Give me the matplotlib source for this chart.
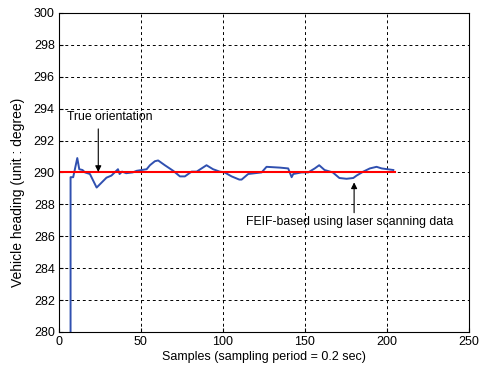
import numpy as np
from matplotlib import pyplot as plt

plt.rcParams['font.family'] = ['Liberation Sans', 'DejaVu Sans']

# FEIF-based heading estimate (samples, degree)
samples = [7.1, 7.1, 8.7, 11.2, 12.4, 14.4, 15.9, 18.9, 23, 29, 32, 34, 36, 37,
           38.5, 41, 45, 47.4, 53.5, 55.5, 58.5, 60.5, 64.6, 69.7, 73.8, 76.8,
           80.9, 84, 90, 94, 98, 101, 105.3, 110, 111.4, 115.4, 123.6, 126.6,
           134.8, 139.8, 141.9, 142.9, 148, 152, 156, 158.7, 162, 167, 171,
           175.4, 179.5, 181.5, 185.6, 189.6, 193.7, 196.8, 203.9]
heading = [280, 289.7, 289.7, 290.9, 290.2, 290.15, 290.0, 289.9, 289.05, 289.67,
           289.8, 290.0, 290.2, 289.9, 290.05, 289.95, 290.0, 290.1, 290.2, 290.45,
           290.7, 290.75, 290.45, 290.1, 289.75, 289.75, 290.05, 290.05, 290.45,
           290.2, 290.05, 290.0, 289.75, 289.55, 289.55, 289.9, 290.0, 290.35,
           290.3, 290.25, 289.7, 289.9, 290.0, 290.0, 290.25, 290.45, 290.15,
           290.0, 289.65, 289.6, 289.65, 289.8, 290.05, 290.25, 290.35, 290.25,
           290.15]

true_x = [0, 205]
true_y = [290, 290]

fig = plt.figure(figsize=(4.91, 3.68), dpi=100)
ax = fig.add_axes([0.120, 0.098, 0.835, 0.867])

ax.plot(samples, heading, color='#3050b0', lw=1.4)
ax.plot(true_x, true_y, color='#ff0000', lw=1.5)

ax.set_xlim(0, 250)
ax.set_ylim(280, 300)
ax.set_xticks(np.arange(0, 251, 50))
ax.set_yticks(np.arange(280, 301, 2))
ax.tick_params(direction='in', labelsize=9, length=3, pad=3)
ax.grid(True, color='black', linestyle=(0, (3, 3)), lw=0.7)

ax.annotate('True orientation', xy=(24, 289.9), xytext=(4.7, 293.5),
            fontsize=8.8, va='center', ha='left')
ax.annotate('', xy=(24, 289.85), xytext=(24, 292.9),
            arrowprops=dict(arrowstyle='-|>', color='black', lw=0.8,
                            mutation_scale=9))
ax.text(114, 286.9, 'FEIF-based using laser scanning data', fontsize=8.8,
        va='center', ha='left')
ax.annotate('', xy=(180, 289.55), xytext=(180, 287.3),
            arrowprops=dict(arrowstyle='-|>', color='black', lw=0.8,
                            mutation_scale=9))

ax.set_xlabel('Samples (sampling period = 0.2 sec)', fontsize=9, labelpad=2)
ax.set_ylabel('Vehicle heading (unit : degree)', fontsize=10)
ax.yaxis.set_label_coords(-0.082, 0.436)

fig.savefig('out.png', dpi=100)
